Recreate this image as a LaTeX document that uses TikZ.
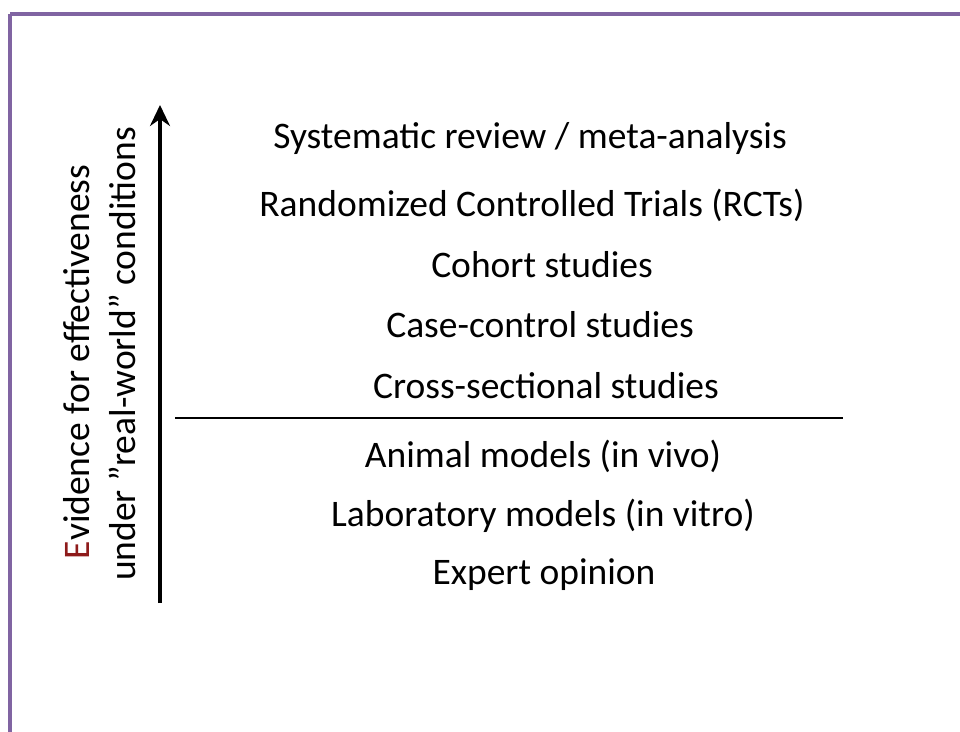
\documentclass[tikz,border=0pt]{standalone}
\usepackage{fontspec}
\setmainfont{Carlito}
\usetikzlibrary{arrows.meta}
\definecolor{framepurple}{HTML}{8064A2}
\definecolor{edark}{HTML}{8E1B1B}
\tikzset{
  level/.style={font=\fontsize{37.5}{45}\selectfont, inner sep=0pt, anchor=center},
  side/.style={font=\fontsize{37.5}{45}\selectfont, inner sep=0pt, rotate=90, anchor=base},
}
\begin{document}
\begin{tikzpicture}[x=1pt,y=-1pt]
\useasboundingbox (0,0) rectangle (960,731);
\draw[framepurple, line width=3.2pt] (10,14) -- (975,14);
\draw[framepurple, line width=3.2pt] (10,14) -- (10,745);
% axis arrow
\coordinate (abot) at (160,603);
\coordinate (atop) at (160,105);
\draw[line width=3.6pt, -{Stealth[length=21pt,width=20pt,inset=7pt]}] (abot) -- (atop);
% side labels
\node[side] (s1) at (89,362) {\textcolor{edark}{E}vidence for effectiveness};
\node[side] (s2) at (135,354) {under \char"201D real-world\char"201D{} conditions};
% divider
\coordinate (dl) at (175,418);
\coordinate (dr) at (843,418);
\draw[line width=1.8pt] (dl) -- (dr);
% levels
\node[level] (l1) at (530,138) {Systematic review / meta-analysis};
\node[level] (l2) at (532,205) {Randomized Controlled Trials (RCTs)};
\node[level] (l3) at (542,265) {Cohort studies};
\node[level] (l4) at (540,325) {Case-control studies};
\node[level] (l5) at (546,386) {Cross-sectional studies};
\node[level] (l6) at (543,456) {Animal models (in vivo)};
\node[level] (l7) at (543,516) {Laboratory models (in vitro)};
\node[level] (l8) at (544,575) {Expert opinion};
\end{tikzpicture}
\end{document}
